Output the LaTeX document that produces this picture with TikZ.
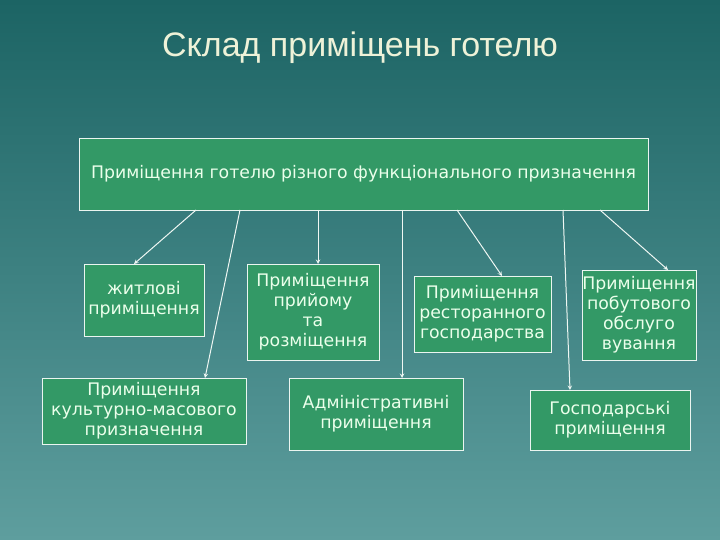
\documentclass[tikz,border=0pt]{standalone}
\usepackage{fontspec}
\setmainfont{DejaVu Sans}
\newfontfamily\titlefont{Liberation Sans}
\definecolor{bgtop}{HTML}{1C6464}
\definecolor{bgbot}{HTML}{5E9E9E}
\definecolor{boxg}{HTML}{339966}
\definecolor{ttl}{HTML}{EEF2D8}
\begin{document}
\begin{tikzpicture}[x=1pt,y=-1pt,
 bx/.style={draw=white!90!boxg,line width=0.8pt,fill=boxg,text=white!92!green,font=\fontsize{17.3}{20}\selectfont,align=center,inner sep=0pt},
 ar/.style={draw=white!92!boxg,line width=1pt,-stealth}]
\shade[top color=bgtop,bottom color=bgbot] (0,0) rectangle (720,540);
\useasboundingbox (0,0) rectangle (720,540);
\node[text=ttl,font=\titlefont\fontsize{34}{38}\selectfont] (title) at (360,48) {Склад приміщень готелю};
\node[bx,minimum width=569,minimum height=72] (top) at (363.5,174) {Приміщення готелю різного функціонального призначення};
\node[bx,minimum width=120,minimum height=72] (zh) at (144,300) {житлові\\приміщення};
\node[bx,minimum width=132,minimum height=96] (pr) at (313,312) {Приміщення\\прийому\\та\\розміщення};
\node[bx,minimum width=137,minimum height=76] (rs) at (482.5,314) {Приміщення\\ресторанного\\господарства};
\node[bx,minimum width=114,minimum height=90] (pb) at (639,315) {Приміщення\\побутового\\обслуго\\вування};
\node[bx,minimum width=204,minimum height=66] (ku) at (144,411) {Приміщення\\культурно-масового\\призначення};
\node[bx,minimum width=174,minimum height=72] (ad) at (376,414) {Адміністративні\\приміщення};
\node[bx,minimum width=160,minimum height=60] (gs) at (610,420) {Господарські\\приміщення};
\coordinate (a1) at (196,210); \coordinate (a2) at (240,210);
\coordinate (a3) at (318,210); \coordinate (a4) at (402,210);
\coordinate (a5) at (457,210); \coordinate (a6) at (563,210);
\coordinate (a7) at (600,210);
\coordinate (b1) at (134,264); \coordinate (b2) at (205,378);
\coordinate (b3) at (318,264); \coordinate (b4) at (402,378);
\coordinate (b5) at (502,276); \coordinate (b6) at (570,390);
\coordinate (b7) at (668,270);
\foreach \i in {1,...,7} \draw[ar] (a\i) -- (b\i);
\end{tikzpicture}
\end{document}
